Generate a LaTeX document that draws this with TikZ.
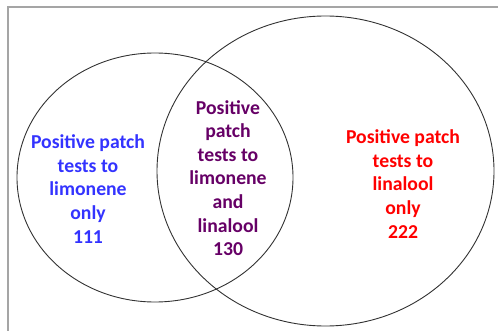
\documentclass[tikz,border=0pt]{standalone}
\usepackage{fontspec}
\setmainfont{Carlito}
\definecolor{framegray}{RGB}{165,165,165}
\definecolor{ringcol}{RGB}{50,50,50}
\definecolor{limblue}{RGB}{51,51,255}
\definecolor{bothpurple}{RGB}{102,0,102}
\definecolor{linred}{RGB}{255,0,0}
\tikzset{
  ring/.style={draw=ringcol, line width=0.9pt},
  label/.style={align=center, font=\fontsize{19.7}{23.6}\selectfont\bfseries, inner sep=0pt},
}
\begin{document}
\begin{tikzpicture}[x=1pt,y=-1pt]
\useasboundingbox (0,0) rectangle (498,331);
\draw[framegray, line width=2pt] (8.3,331) -- (8.3,6.7) -- (498,6.7);
\draw[ring] (155,177.5) ellipse [x radius=138, y radius=124.5];
\draw[ring] (325.5,171) ellipse [x radius=168.5, y radius=155];
\node[label, text=limblue] (lim) at (88,189) {Positive patch\\tests to\\limonene\\only\\111};
\node[label, text=bothpurple] (both) at (228,178) {Positive\\patch\\tests to\\limonene\\and\\linalool\\130};
\node[label, text=linred] (lin) at (403,184) {Positive patch\\tests to\\linalool\\only\\222};
\end{tikzpicture}
\end{document}
